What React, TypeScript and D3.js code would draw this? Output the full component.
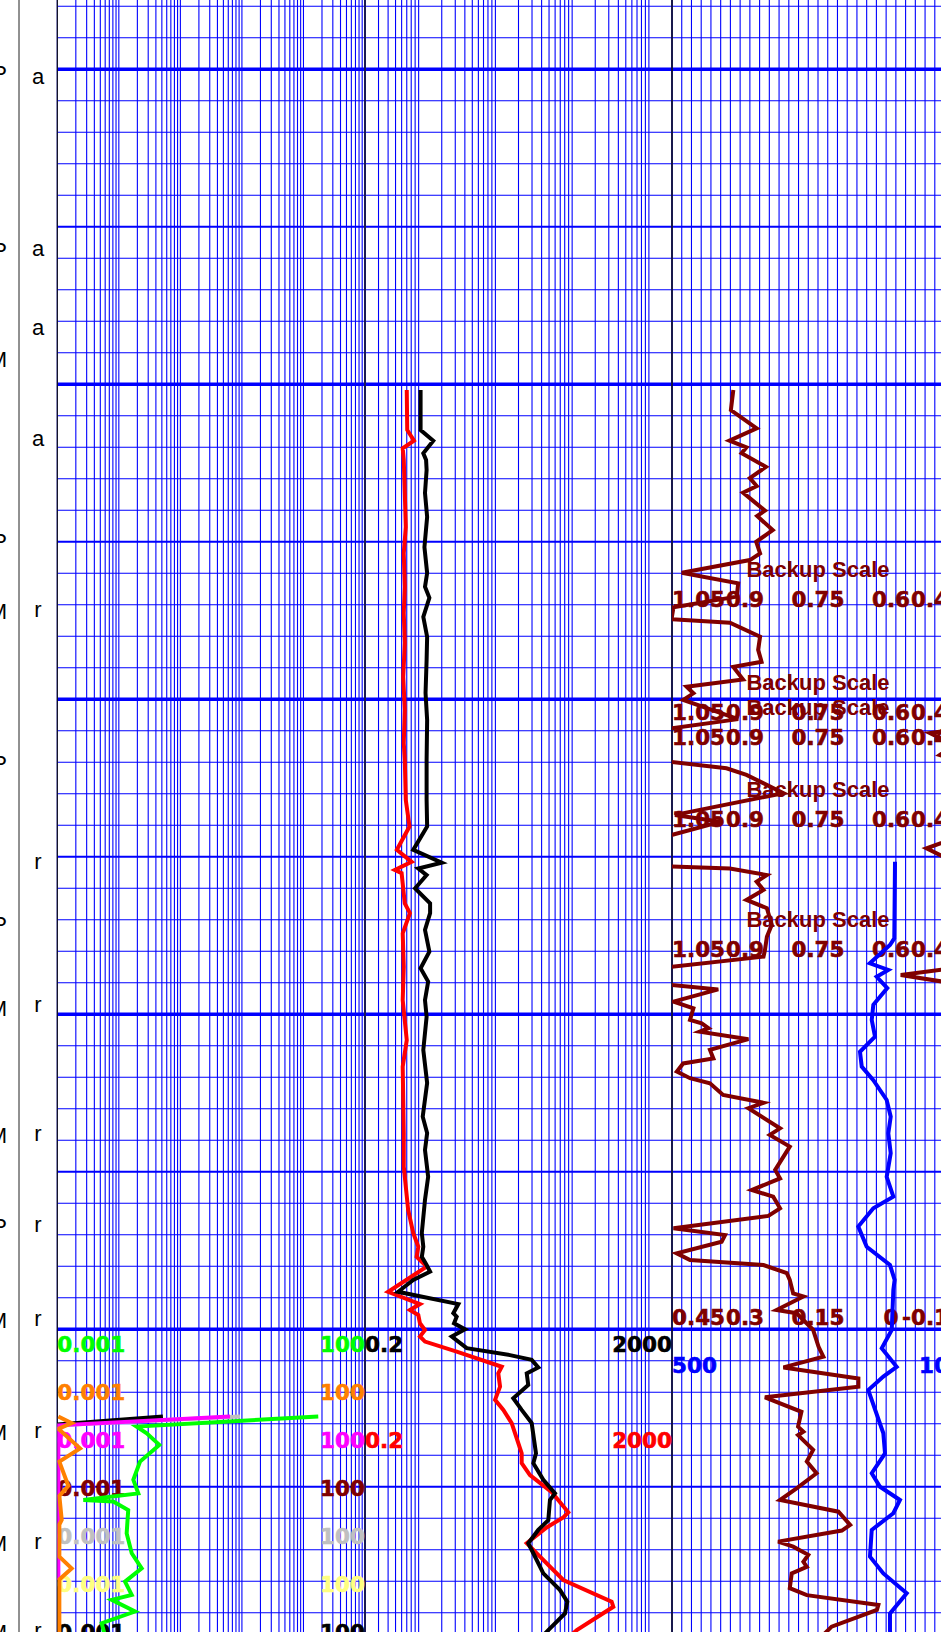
import React, { useEffect, useRef } from 'react';
import * as d3 from 'd3';

const WIDTH = 941;
const HEIGHT = 1632;

// depth window (ft) shown top to bottom
const depthTop = 2078;
const depthBottom = 2596.1;

// track scales
const track1Range: [number, number] = [0.001, 100];
const track2Range: [number, number] = [0.2, 2000];
const neutronRange: [number, number] = [0.45, -0.15];
const sonicRange: [number, number] = [500, 100];
const backupShift = 0.6;

// tick labels
const track1Labels = ['0.001', '100'];
const track2Labels = ['0.2', '2000'];
const neutronTicks = [0.45, 0.3, 0.15, 0, -0.15];
const neutronTickLabels = ['0.45', '0.3', '0.15', '0', '-0.15'];
const backupTickLabels = ['1.05', '0.9', '0.75', '0.6', '0.45'];
const sonicTickLabels = ['500', '100'];

// depths where the backup-scale annotation was printed
const backupDepths = [2261.2, 2297, 2305, 2331, 2372.2];
const headerDepth = 2500;

// depth column letters [depth, letter]
const leftLetters: [number, string][] = [
  [2101.2, 'P'], [2157.4, 'P'], [2192, 'M'], [2249.7, 'P'], [2272, 'M'], [2320.2, 'P'],
  [2371.3, 'P'], [2398, 'M'], [2438.3, 'M'], [2467.2, 'P'], [2497, 'M'], [2532.6, 'M'],
  [2567.8, 'M'], [2596.1, 'M'],
];
const rightLetters: [number, string][] = [
  [2102.8, 'a'], [2157.4, 'a'], [2182.4, 'a'], [2217.7, 'a'], [2272, 'r'], [2352, 'r'],
  [2397.4, 'r'], [2438.3, 'r'], [2467.2, 'r'], [2497, 'r'], [2532.6, 'r'], [2567.8, 'r'],
  [2596.1, 'r'],
];

// deep resistivity (black, track 2) [depth, ohmm]
const deepRes: [number, number][] = [
  [2201.8, 1.06], [2214.5, 1.06], [2217.9, 1.55], [2221.9, 1.15], [2224, 1.25], [2227.2, 1.27],
  [2234.5, 1.21], [2242.1, 1.29], [2251.7, 1.19], [2259.9, 1.29], [2264.3, 1.21], [2267.8, 1.38],
  [2273.8, 1.15], [2280.2, 1.29], [2287.5, 1.27], [2298, 1.23], [2306.6, 1.29], [2319.3, 1.27],
  [2332, 1.27], [2340.4, 1.29], [2347.8, 0.85], [2351.9, 2.0], [2353.7, 0.99], [2355.8, 1.27],
  [2360, 0.9], [2364.8, 1.41], [2367.9, 1.41], [2373.2, 1.21], [2380.1, 1.38], [2385.4, 1.06],
  [2389.6, 1.33], [2395.5, 1.21], [2400.8, 1.27], [2411.3, 1.15], [2421.8, 1.29], [2432.5, 1.13],
  [2437.7, 1.29], [2443.1, 1.21], [2451.6, 1.33], [2458.9, 1.21], [2469.4, 1.1], [2473.8, 1.15],
  [2477, 1.1], [2479.6, 1.27], [2481.7, 1.41], [2484.3, 0.85], [2488.1, 0.54], [2492, 3.29],
  [2494.9, 2.83], [2496, 3.13], [2498.1, 2.89], [2500, 4.02], [2502.3, 2.7], [2506, 4.23],
  [2508.2, 15.5], [2509.7, 29.7], [2512.1, 36.2], [2514, 25.6], [2517.7, 26.8], [2521.9, 17.1],
  [2525.6, 22.0], [2529.8, 29.7], [2539.4, 33.8], [2542.5, 31.2], [2547.8, 42.1], [2552.1, 59.8],
  [2554.2, 51.4], [2560.6, 48.9], [2563.7, 36.2], [2567.9, 26.8], [2571.1, 31.2], [2577.5, 42.1],
  [2582.8, 69.5], [2586.5, 86.5], [2590.2, 80.7], [2595.5, 48.9], [2600.2, 32],
];

// medium resistivity (red, track 2)
const medRes: [number, number][] = [
  [2201.8, 0.7], [2214.5, 0.71], [2217.9, 0.87], [2220.3, 0.62], [2224, 0.64], [2234.5, 0.66],
  [2245.3, 0.68], [2253.6, 0.64], [2264.3, 0.66], [2272.6, 0.64], [2282.1, 0.66], [2292.9, 0.63],
  [2303.4, 0.66], [2313.9, 0.64], [2319.3, 0.66], [2332, 0.68], [2340.4, 0.76], [2347.8, 0.52],
  [2351.6, 0.81], [2354.2, 0.49], [2355.2, 0.6], [2364.8, 0.66], [2367.9, 0.77], [2374.3, 0.62],
  [2384.9, 0.64], [2395.5, 0.62], [2408.2, 0.7], [2416.6, 0.62], [2437.7, 0.64], [2448.4, 0.64],
  [2462.1, 0.73], [2469.4, 0.85], [2473.8, 0.99], [2477, 0.94], [2480.1, 1.27], [2482.2, 0.94],
  [2488.1, 0.4], [2492, 1.04], [2493.9, 0.77], [2495.5, 0.99], [2498.1, 1.04], [2500.2, 1.21],
  [2502.3, 1.04], [2503.9, 1.21], [2507.1, 3.13], [2511.9, 12.1], [2514, 10.9], [2518.2, 11.5],
  [2522.4, 9.9], [2525.6, 12.7], [2529.8, 16.3], [2539.4, 22.0], [2542.5, 22.0], [2546.3, 28.2],
  [2551.7, 54.2], [2558.1, 89.1], [2559.7, 76.7], [2562.9, 46.6], [2567.9, 25.6], [2572.2, 38.1],
  [2579.6, 76.7], [2586.5, 327], [2588.1, 344], [2595.5, 115], [2600.2, 70],
];

// neutron porosity (maroon, track 3), values above 0.45 wrap onto the backup scale
const neutron: [number, number][] = [
  [2201.8, 0.324], [2208.2, 0.329], [2214, 0.276], [2217.9, 0.332], [2220, 0.297], [2221.9, 0.307],
  [2226.2, 0.257], [2229.8, 0.29], [2232.3, 0.276], [2234.4, 0.304], [2240.1, 0.259], [2241.8, 0.275],
  [2246.3, 0.243], [2250, 0.277], [2253.7, 0.269], [2255.8, 0.29], [2259.8, 0.43], [2263.2, 0.314],
  [2267.4, 0.317], [2270.8, 0.447], [2274.6, 0.451], [2275.7, 0.331], [2280.1, 0.269], [2284.3, 0.273],
  [2288.1, 0.266], [2289.7, 0.324], [2293.7, 0.304], [2296, 0.42], [2298.1, 0.406], [2300.2, 0.427],
  [2306.3, 0.314], [2309.2, 0.451], [2310.7, 0.52], [2314.5, 0.47], [2317.7, 0.5], [2319.9, 0.452],
  [2321.9, 0.338], [2324, 0.297], [2329.8, 0.221], [2336.7, 0.444], [2338.9, 0.351], [2343.1, 0.451],
  [2347.3, 0.527], [2353.1, 0.451], [2353.7, 0.331], [2355.8, 0.255], [2357.9, 0.276], [2360.5, 0.262],
  [2363.7, 0.297], [2366.3, 0.255], [2371.6, 0.245], [2375.4, 0.255], [2379.6, 0.259], [2381.7, 0.262],
  [2384.9, 0.451], [2387.5, 0.58], [2390.7, 0.451], [2392.1, 0.355], [2396, 0.447], [2398.1, 0.406],
  [2401.8, 0.413], [2402.9, 0.389], [2404.4, 0.375], [2405.5, 0.393], [2407.9, 0.293], [2411.3, 0.372],
  [2414, 0.365], [2415.6, 0.427], [2418.2, 0.44], [2420.3, 0.413], [2421.9, 0.372], [2425.6, 0.345],
  [2428.1, 0.262], [2429.8, 0.293], [2436.2, 0.228], [2438.3, 0.249], [2442, 0.208], [2449.4, 0.238],
  [2452.1, 0.228], [2455.8, 0.286], [2457.9, 0.242], [2461.6, 0.228], [2464, 0.252], [2467.9, 0.447],
  [2470.1, 0.341], [2472.2, 0.348], [2475.9, 0.44], [2478, 0.413], [2479.6, 0.262], [2482.2, 0.214],
  [2484.3, 0.208], [2488.6, 0.201], [2489.6, 0.18], [2493.9, 0.235], [2494.9, 0.194], [2500.2, 0.16],
  [2505.5, 0.149], [2508.7, 0.139], [2512.1, 0.221], [2515.6, 0.067], [2518.2, 0.067], [2521.6, 0.259],
  [2526.2, 0.184], [2530.9, 0.191], [2532.5, 0.18], [2533.6, 0.191], [2538.3, 0.16], [2542, 0.173],
  [2545.7, 0.153], [2550.5, 0.194], [2554.2, 0.228], [2557.9, 0.108], [2562.1, 0.084], [2563.9, 0.101],
  [2567.4, 0.232], [2569, 0.201], [2571.6, 0.17], [2573.8, 0.18], [2575.4, 0.173], [2577.5, 0.204],
  [2582.2, 0.208], [2584.4, 0.173], [2587.5, 0.026], [2589.1, 0.029], [2594.4, 0.122], [2600.2, 0.16],
];

// sonic (blue, track 3)
const sonic: [number, number][] = [
  [2351.6, 194.5], [2375.9, 195.5], [2378, 201.4], [2383.8, 229], [2385.9, 203.7], [2388.1, 219.6],
  [2391.7, 205.1], [2397, 224.2], [2401.8, 226.4], [2407.1, 221.9], [2411.9, 242.5], [2416.6, 240.1],
  [2420.9, 224.2], [2427.2, 205.9], [2432.5, 200.4], [2437.8, 203.7], [2444.1, 200.4], [2451.6, 205.9],
  [2457.9, 196.8], [2461.6, 224.2], [2467.4, 244.8], [2473.8, 233.3], [2479.6, 201.4], [2484.3, 195],
  [2487.5, 196.8], [2500.2, 199], [2506, 212.7], [2511.9, 192.2], [2515, 210.5], [2519.3, 231.1],
  [2533, 210.5], [2539.4, 208.2], [2545.7, 226.4], [2550, 215.1], [2554.2, 187.7], [2558.4, 196.8],
  [2563.7, 226.4], [2572.2, 228.8], [2577.5, 210.5], [2583.8, 178.5], [2590.2, 201.4], [2595.5, 201.4],
  [2600.2, 200],
];

// track 1 curves
const greenCurve: [number, number][] = [
  [2527.7, 17.4], [2530.9, 0.0195], [2533, 0.0284], [2536.7, 0.0455], [2542, 0.0221], [2547.8, 0.0172],
  [2552.1, 0.0207], [2554.2, 0.00265], [2554.7, 0.0081], [2557.4, 0.0142], [2564.8, 0.0134],
  [2571.1, 0.0162], [2575.9, 0.0235], [2580.1, 0.0126], [2584.3, 0.0162], [2585.9, 0.00766],
  [2589.6, 0.0183], [2593.3, 0.00527], [2600.2, 0.0065],
];
const orangeCurve: [number, number][] = [
  [2527.7, 0.00104], [2529.8, 0.00171], [2531.6, 0.00104], [2537.8, 0.00234], [2542, 0.00108],
  [2549.7, 0.00151], [2552.9, 0.00108], [2560.5, 0.00118], [2562, 0.00108], [2572.2, 0.00108],
  [2575.9, 0.00171], [2579.4, 0.00108], [2600.2, 0.00108],
];
const magentaCurve: [number, number][] = [
  [2527.7, 0.64], [2530.5, 0.00104], [2578.5, 0.00104], [2579.5, 0.0009], [2600.2, 0.0009],
];
const blackCurve1: [number, number][] = [
  [2527.7, 0.052], [2530.2, 0.001], [2531, 0.0009], [2600.2, 0.0009],
];
const silverCurve: [number, number][] = [
  [2527.7, 0.93], [2530.5, 0.001], [2531, 0.0009], [2600.2, 0.0009],
];

const T1 = 57.3;
const T2 = 365;
const T3 = 672;
const T4 = 964;

const GRID = '#0000ff';
const C = {
  green: '#00ff00', orange: '#ff8000', magenta: '#ff00ff', maroon: '#800000',
  silver: '#c0c0c0', yellow: '#ffff80', black: '#000000', red: '#ff0000', blue: '#0000ff',
};

const App: React.FC = () => {
  const svgRef = useRef<SVGSVGElement>(null);

  useEffect(() => {
    if (!svgRef.current) return;
    const svg = d3.select(svgRef.current);
    svg.selectAll('*').remove();

    const y = d3.scaleLinear().domain([depthTop, depthBottom]).range([0, HEIGHT]);
    const x1 = d3.scaleLog().domain(track1Range).range([T1, T2]);
    const x2 = d3.scaleLog().domain(track2Range).range([T2, T3]);
    const xN = d3.scaleLinear().domain(neutronRange).range([T3, T4]);
    const xS = d3.scaleLinear().domain(sonicRange).range([T3, T4]);

    const defs = svg.append('defs');
    [[T1, T2], [T2, T3], [T3, T4]].forEach(([a, b], i) => {
      defs.append('clipPath').attr('id', `trk${i}`)
        .append('rect').attr('x', a).attr('y', 0).attr('width', b - a).attr('height', HEIGHT);
    });

    svg.append('rect').attr('width', WIDTH).attr('height', HEIGHT).attr('fill', '#fff');

    const grid = svg.append('g');

    const logTicks = ([lo, hi]: [number, number]) => {
      const out: number[] = [];
      for (let e = Math.floor(Math.log10(lo)); e <= Math.ceil(Math.log10(hi)); e++) {
        for (let k = 1; k < 10; k++) {
          const v = +(k * Math.pow(10, e)).toPrecision(6);
          if (v >= lo * 0.999 && v <= hi * 1.001) out.push(v);
        }
      }
      return out;
    };

    const vx: number[] = [
      ...logTicks(track1Range).map(v => x1(v)),
      ...logTicks(track2Range).map(v => x2(v)),
      ...d3.range(31).map(i => T3 + (i * (T4 - T3)) / 30),
    ];
    grid.selectAll('line.v').data(vx).join('line')
      .attr('x1', d => d).attr('x2', d => d).attr('y1', 0).attr('y2', HEIGHT)
      .attr('stroke', GRID).attr('stroke-width', 1.1);

    const hd = d3.range(Math.ceil(depthTop / 10) * 10, depthBottom + 0.01, 10);
    grid.selectAll('line.h').data(hd).join('line')
      .attr('x1', T1).attr('x2', T4).attr('y1', d => y(d)).attr('y2', d => y(d))
      .attr('stroke', GRID)
      .attr('stroke-width', d => (d % 100 === 0 ? 3.5 : d % 50 === 0 ? 2 : 1.1));

    // track borders
    const borders = [
      { x: 19, c: '#222', w: 1 },
      { x: T1, c: '#111', w: 1.2 },
      { x: T2, c: '#1a1a55', w: 2 },
      { x: T3, c: '#111', w: 1.5 },
    ];
    svg.append('g').selectAll('line').data(borders).join('line')
      .attr('x1', d => d.x).attr('x2', d => d.x).attr('y1', 0).attr('y2', HEIGHT)
      .attr('stroke', d => d.c).attr('stroke-width', d => d.w);

    // depth column letters
    const letters = svg.append('g').attr('font-family', 'Liberation Sans, Arial, sans-serif')
      .attr('font-size', 22).attr('fill', '#000');
    letters.selectAll('text.l').data(leftLetters).join('text')
      .attr('x', 7).attr('y', d => y(d[0]) + 8).attr('text-anchor', 'end').text(d => d[1]);
    letters.selectAll('text.r').data(rightLetters).join('text')
      .attr('x', 38).attr('y', d => y(d[0]) + 6.3).attr('text-anchor', 'middle').text(d => d[1]);

    // labels
    const lab = svg.append('g').attr('font-family', 'DejaVu Sans, Verdana, sans-serif')
      .attr('font-weight', 'bold').attr('font-size', 21.5).attr('stroke-width', 0.6);
    const addText = (x: number, yy: number, t: string, color: string, anchor: string) =>
      lab.append('text').attr('x', x).attr('y', yy).attr('text-anchor', anchor)
        .attr('fill', color).attr('stroke', color).text(t);

    const hy = y(headerDepth);
    const rowGap = 48;
    const track1Colors = [C.green, C.orange, C.magenta, C.maroon, C.silver, C.yellow, C.black];
    track1Colors.forEach((col, i) => {
      const by = hy + 22.4 + rowGap * i;
      addText(T1, by, track1Labels[0], col, 'start');
      addText(T2, by, track1Labels[1], col, 'end');
    });
    [[0, C.black], [2, C.red]].forEach(([row, col]) => {
      const by = hy + 22.4 + rowGap * (row as number);
      addText(T2, by, track2Labels[0], col as string, 'start');
      addText(T3, by, track2Labels[1], col as string, 'end');
    });
    const anchorFor = (i: number, n: number) => (i === 0 ? 'start' : i === n - 1 ? 'end' : 'middle');
    neutronTicks.forEach((t, i) => {
      addText(xN(t), hy - 4.3, neutronTickLabels[i], C.maroon, anchorFor(i, neutronTicks.length));
    });
    addText(T3, hy - 4.3 + rowGap, sonicTickLabels[0], C.blue, 'start');
    addText(T4, hy - 4.3 + rowGap, sonicTickLabels[1], C.blue, 'end');

    backupDepths.forEach(d => {
      const by = y(d);
      lab.append('text').attr('x', (T3 + T4) / 2).attr('y', by).attr('text-anchor', 'middle')
        .attr('font-family', 'Liberation Sans, Arial, sans-serif')
        .attr('font-size', 22).attr('fill', C.maroon).text('Backup Scale');
      neutronTicks.forEach((t, i) => {
        addText(xN(t), by + 30, backupTickLabels[i], C.maroon, anchorFor(i, neutronTicks.length));
      });
    });

    // curves
    const curves = svg.append('g').attr('fill', 'none').attr('stroke-width', 4)
      .attr('stroke-linejoin', 'miter').attr('stroke-miterlimit', 4);
    const draw = (data: [number, number][], xs: (v: number) => number, color: string, clip: number) => {
      const line = d3.line<[number, number]>().x(d => xs(d[1])).y(d => y(d[0]));
      curves.append('path').attr('d', line(data)).attr('stroke', color)
        .attr('clip-path', `url(#trk${clip})`);
    };

    draw(silverCurve, x1, C.silver, 0);
    draw(blackCurve1, x1, C.black, 0);
    draw(magentaCurve, x1, C.magenta, 0);
    draw(orangeCurve, x1, C.orange, 0);
    draw(greenCurve, x1, C.green, 0);

    draw(medRes, x2, C.red, 1);
    draw(deepRes, x2, C.black, 1);

    draw(neutron, v => xN(v), C.maroon, 2);
    draw(neutron, v => xN(v - backupShift), C.maroon, 2);
    draw(sonic, xS, C.blue, 2);
  }, []);

  return (
    <svg
      ref={svgRef}
      width={WIDTH}
      height={HEIGHT}
      style={{ position: 'absolute', left: 0, top: 0, display: 'block' }}
    />
  );
};

export default App;
